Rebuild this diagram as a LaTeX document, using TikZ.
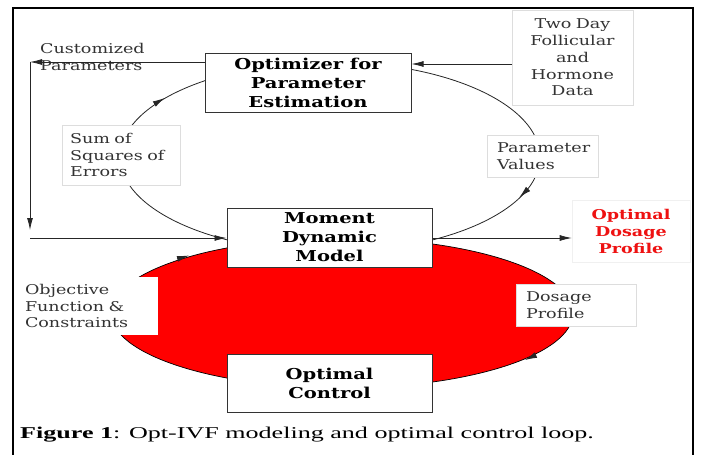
\documentclass[tikz,border=0pt]{standalone}
\usepackage{fontspec}
\usetikzlibrary{arrows.meta,calc}
\newfontfamily\dfont[FakeStretch=1.3]{DejaVu Serif}
\newfontfamily\cfont[FakeStretch=1.58]{Liberation Serif}
\definecolor{lbl}{HTML}{333333}
\definecolor{lblframe}{HTML}{DDDDDD}
\definecolor{boxframe}{HTML}{333333}
\definecolor{ired}{HTML}{FF0000}
\definecolor{redtxt}{HTML}{EE1111}
\begin{document}
\begin{tikzpicture}[x=1pt,y=-1pt,
  mainbox/.style={draw=boxframe, line width=1pt, fill=white, align=center, inner sep=0pt,
    font=\dfont\bfseries\fontsize{15}{19}\selectfont},
  lblbox/.style={draw=lblframe, line width=0.6pt, fill=white, text=lbl, align=left,
    inner xsep=10pt, inner ysep=0pt, font=\dfont\fontsize{13.5}{16.7}\selectfont},
  conn/.style={line width=0.8pt, draw=black!85, -{Latex[length=12pt,width=6pt]}},
  tipo/.style={line width=0.8pt, draw=black!85, -{Latex[length=12pt,width=6pt]}}]
\useasboundingbox (0,0) rectangle (702,455);
\fill[white] (0,0) rectangle (702,455);

% upper loop
\draw[line width=0.8pt, black!85] (330,157) ellipse [x radius=210pt, y radius=95pt];
\draw[tipo] (154.4,104) -- (164.7,98);
\draw[tipo] (528,189) -- (519.4,197.3);

% lower red loop
\filldraw[fill=ired, draw=black, line width=0.7pt] (342,313) ellipse [x radius=231pt, y radius=75pt];
\draw[tipo] (177,259) -- (189,255.5);
\draw[tipo] (536,355) -- (525,360);

% main boxes
\node[mainbox, minimum width=206pt, minimum height=59pt] (opt) at (308,82.5)
  {Optimizer for\\Parameter\\Estimation};
\node[mainbox, minimum width=205pt, minimum height=59pt] (mom) at (329.5,237.5)
  {Moment\\Dynamic\\Model};
\node[mainbox, minimum width=205pt, minimum height=58pt] (ctl) at (329.5,383)
  {Optimal\\Control};

% label boxes
\node[lblbox, align=center, text width=101pt, minimum height=95pt] (two) at (572.5,57.5)
  {Two Day\\Follicular\\and\\Hormone\\Data};
\node[lblbox, inner xsep=8pt, text width=102pt, minimum height=60pt] (sse) at (121,155)
  {Sum of\\Squares of\\Errors};
\node[lblbox, text width=91pt, minimum height=42pt] (pv) at (542.5,156)
  {Parameter\\Values};
\node[lblbox, draw=none, text width=123pt, minimum height=58pt] (obj) at (86.5,306)
  {Objective\\Function \&\\Constraints};
\node[lblbox, text width=100pt, minimum height=42pt] (dos) at (576,305)
  {Dosage\\Profile};
\node[lblbox, draw=black!6, align=center, text=redtxt, text width=98pt, minimum height=62pt,
  font=\dfont\bfseries\fontsize{13.5}{17}\selectfont] (odp) at (631,231)
  {Optimal\\Dosage\\Profile};
\node[anchor=west, text=lbl, align=left, inner sep=0pt,
  font=\dfont\fontsize{13.5}{17.5}\selectfont] (cust) at (40,57) {Customized\\Parameters};

% connectors
\coordinate (c1) at (30,62);
\coordinate (c2) at (30,230);
\coordinate (c3) at (30,238);
\coordinate (td) at (512,64);
\draw[conn] (opt.west |- c1) -- (c1);
\draw[conn] (c1) -- (c2);
\draw[conn] (c3) -- (c3 -| mom.west);
\draw[conn] (td) -- (td -| opt.east);
\draw[conn] (mom.east |- c3) -- (c3 -| odp.west);

% frame
\draw[line width=2.2pt] (13,455) -- (13,8) -- (693,8) -- (693,455);

% caption
\node[anchor=base west, inner sep=0pt] (cap) at (20,438)
  {\cfont\fontsize{16.5}{18}\selectfont\textbf{Figure 1}: Opt-IVF modeling and optimal control loop.};
\end{tikzpicture}
\end{document}
